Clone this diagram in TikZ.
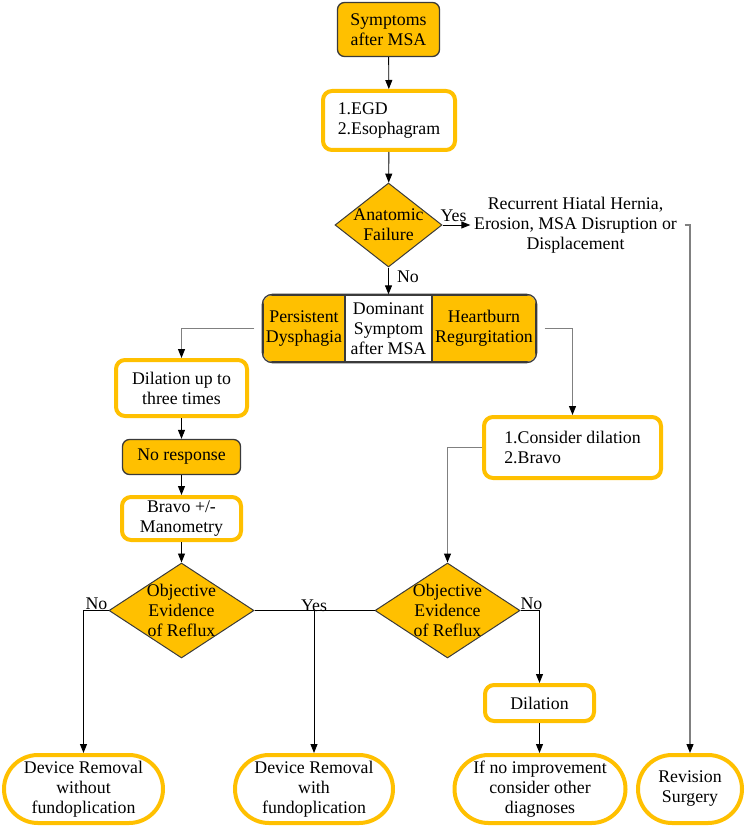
\documentclass[tikz,border=0pt]{standalone}
\usepackage{fontspec}
\setmainfont{Liberation Serif}
\usetikzlibrary{arrows.meta, positioning, shapes.geometric, calc}
\definecolor{corange}{HTML}{FFC000}
\definecolor{cdark}{HTML}{3A3A3A}
\definecolor{cgrey}{HTML}{808080}
\tikzset{
  every picture/.style={line width=1pt},
  fillbox/.style={draw=cdark, fill=corange, line width=1.3pt, rounded corners=7pt, align=center, inner sep=2pt},
  stepbox/.style={draw=corange, fill=white, line width=4pt, rounded corners=9pt, align=center, inner sep=2pt},
  endbox/.style={draw=corange, fill=white, line width=4pt, rounded corners=34pt, align=center, inner sep=2pt, minimum height=68pt},
  decision/.style={diamond, draw=cdark, fill=corange, line width=1pt, inner sep=0pt},
  arrow/.style={-{Triangle[length=9pt, width=7pt, color=black]}, draw=black, line width=0.9pt},
  link/.style={arrow, draw=cgrey, line width=1.1pt},
  part/.style={draw=cdark, line width=1.3pt, minimum height=67pt, align=center, inner sep=1pt},
}

\begin{document}
\begin{tikzpicture}[
    x=1pt, y=-1pt,
    every node/.append style={font=\fontsize{17.8}{20}\selectfont},
  ]
  \useasboundingbox (0,0) rectangle (747,829);

  % start
  \node[fillbox, minimum width=102pt, minimum height=54pt] (sym) at (388.5,29.5) {Symptoms\\after MSA};
  \node[stepbox, minimum width=132pt, minimum height=59pt, align=left] (egd) at (389,120.5) {1.EGD\\2.Esophagram};
  \node[decision, minimum width=107pt, minimum height=84pt] (anat) at (388.5,225) {};
  \node[align=center] (anattxt) at (anat) {Anatomic\\Failure};
  \node[align=center] (recur) at (575.5,225) {Recurrent Hiatal Hernia,\\Erosion, MSA Disruption or\\Displacement};
  \draw[arrow] (sym) -- (egd);
  \draw[arrow] (egd) -- (anat);
  \draw[arrow] (anat.east) -- (recur.west);
  \node (yesa) at (453.5,216) {Yes};
  \node (noa) at (408,277) {No};

  % dominant symptom
  \begin{scope}
    \clip[rounded corners=10pt] (263,295) rectangle (536,362);
    \node[part, fill=corange, minimum width=82pt] (pd) at (304,328.5) {Persistent\\Dysphagia};
    \node[part, fill=white, minimum width=87pt] (dom) at (388.5,328.5) {Dominant\\Symptom\\after MSA};
    \node[part, fill=corange, minimum width=104pt] (hr) at (484,328.5) {Heartburn\\Regurgitation};
  \end{scope}
  \draw[cdark, line width=1.3pt, rounded corners=10pt] (pd.north west) rectangle (hr.south east);
  \draw[arrow] (anat.south) -- (dom.north);

  % dysphagia side
  \node[stepbox, minimum width=131pt, minimum height=56pt] (dil3) at (181.5,388) {Dilation up to\\three times};
  \node[fillbox, minimum width=118pt, minimum height=35pt] (nores) at (181.5,457) {No response};
  \node[stepbox, minimum width=119pt, minimum height=43pt] (bravo) at (181.5,518.5) {Bravo +/-\\Manometry};
  \node[decision, minimum width=145pt, minimum height=95pt] (obj1) at (181.5,610.5) {};
  \node[align=center] (obj1txt) at (obj1) {Objective\\Evidence\\of Reflux};
  \draw[link] ([xshift=-8pt]pd.west) -| (dil3.north);
  \draw[arrow] (dil3) -- (nores);
  \draw[arrow] (nores) -- (bravo);
  \draw[arrow] (bravo) -- (obj1);

  % heartburn side
  \node[stepbox, minimum width=177pt, minimum height=61pt, align=left] (cons) at (572.5,447.5) {1.Consider dilation\\2.Bravo};
  \node[decision, minimum width=145pt, minimum height=95pt] (obj2) at (447.5,610.5) {};
  \node[align=center] (obj2txt) at (obj2) {Objective\\Evidence\\of Reflux};
  \node[stepbox, minimum width=109pt, minimum height=36pt] (dil) at (539.5,703) {Dilation};
  \draw[link] ([xshift=8pt]hr.east) -| (cons.north);
  \draw[link] (cons.west) -| (obj2.north);

  % outcomes
  \node[endbox, minimum width=159pt] (devno) at (83.5,789) {Device Removal\\without\\fundoplication};
  \node[endbox, minimum width=158pt] (devwith) at (314,789) {Device Removal\\with\\fundoplication};
  \node[endbox, minimum width=171pt] (noimp) at (540,789) {If no improvement\\consider other\\diagnoses};
  \node[endbox, minimum width=104pt] (rev) at (690,789) {Revision\\Surgery};
  \draw[arrow] (obj1.west) -| (devno.north);
  \node (no1) at (96.5,604) {No};
  \draw[line width=0.9pt] (obj1.east) -- (obj2.west);
  \draw[arrow] (devwith.north |- obj1.east) -- (devwith.north);
  \node (yes1) at (314,606) {Yes};
  \draw[arrow] (obj2.east) -| (dil.north);
  \node (no2) at (531.5,604) {No};
  \draw[arrow] (dil.south) -- (dil.south |- noimp.north);
  \draw[link] ([xshift=4pt]recur.east) -| (rev.north);
\end{tikzpicture}
\end{document}
